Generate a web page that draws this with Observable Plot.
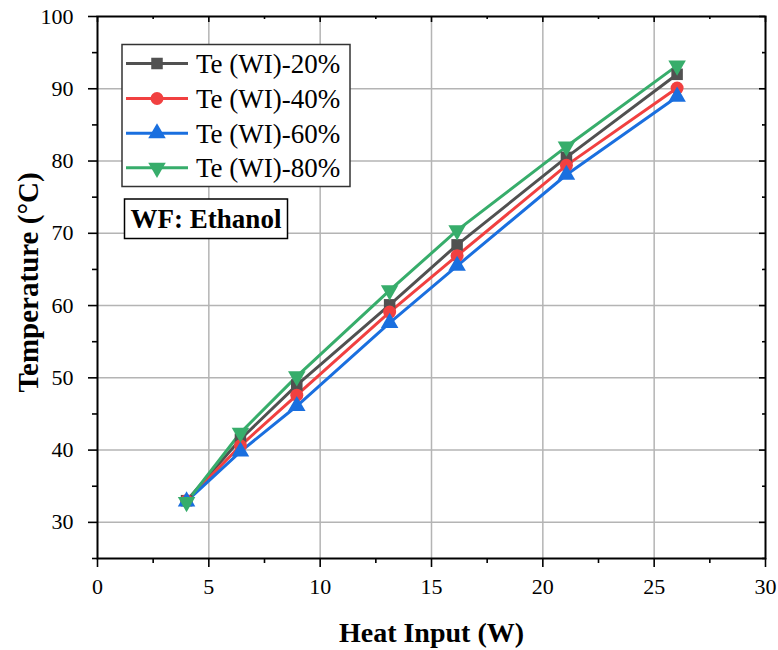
<!DOCTYPE html>
<html><head><meta charset="utf-8">
<script src="https://cdn.jsdelivr.net/npm/d3@7"></script>
<script src="https://cdn.jsdelivr.net/npm/@observablehq/plot@0.6"></script>
<style>
body{margin:0;background:#fff;}
#wrap{position:relative;width:778px;height:650px;font-family:"Liberation Serif","Times New Roman",serif;}
#wrap > svg{position:absolute;left:0;top:0;}
</style></head><body><div id="wrap"></div>
<script>
const heatInput = [4.0, 6.42, 8.95, 13.12, 16.15, 21.06, 26.03];
const seriesNames = ["Te (WI)-20%", "Te (WI)-40%", "Te (WI)-60%", "Te (WI)-80%"];
const te20 = [33.0, 41.5, 49.0, 60.1, 68.4, 80.5, 92.0];
const te40 = [33.0, 40.6, 47.6, 59.1, 66.9, 79.4, 90.1];
const te60 = [32.9, 39.8, 46.1, 57.6, 65.5, 78.1, 88.9];
const te80 = [32.8, 42.4, 50.2, 62.1, 70.4, 82.0, 93.2];
const colors = ["#515151", "#F14040", "#1A6FDF", "#37AD6B"];
const symbols = ["square", "circle", "triangle", "triangle"];
const xTicks = [0, 5, 10, 15, 20, 25, 30];
const xMinor = [2.5, 7.5, 12.5, 17.5, 22.5, 27.5];
const yTicks = [30, 40, 50, 60, 70, 80, 90, 100];
const yMinor = [25, 35, 45, 55, 65, 75, 85, 95];
const xLabel = "Heat Input (W)";
const yLabel = "Temperature (°C)";
const noteText = "WF: Ethanol";

const seriesValues = [te20, te40, te60, te80];
const data = seriesNames.flatMap((s, k) => heatInput.map((x, i) => ({x, y: seriesValues[k][i], s, k})));

const W = 778, H = 650, mL = 97, mR = 13, mT = 16, mB = 92;
const pw = W - mL - mR, ph = H - mT - mB;
const font = "Liberation Serif, Times New Roman, serif";
const xGrid = xTicks.filter(d => d > 0 && d < 30);
const yGrid = yTicks.filter(d => d < 100);
const tickW = 1.6;

const chart = Plot.plot({
  width: W, height: H,
  marginLeft: mL, marginRight: mR, marginTop: mT, marginBottom: mB,
  style: {fontFamily: font, fontSize: "22px", color: "#000", background: "#fff", overflow: "visible"},
  x: {domain: [0, 30]},
  y: {domain: [25, 100]},
  color: {domain: seriesNames, range: colors},
  symbol: {domain: seriesNames, range: symbols},
  marks: [
    Plot.gridX(xGrid, {stroke: "#b4b4b4", strokeOpacity: 1, strokeWidth: 1.5}),
    Plot.gridY(yGrid, {stroke: "#b4b4b4", strokeOpacity: 1, strokeWidth: 1.5}),
    Plot.axisX(xTicks, {tickSize: 9, tickPadding: 11, strokeWidth: tickW, fontSize: 22, fontFamily: font, fill: "#000", label: null}),
    Plot.axisX(xMinor, {tickSize: 5, text: null, strokeWidth: tickW, label: null}),
    Plot.axisY(yTicks, {tickSize: 9, tickPadding: 15, strokeWidth: tickW, fontSize: 22, fontFamily: font, fill: "#000", label: null}),
    Plot.axisY(yMinor, {tickSize: 5, text: null, strokeWidth: tickW, label: null}),
    Plot.tickX(xTicks, {x: d => d, insetBottom: ph - 6, stroke: "#000", strokeWidth: tickW}),
    Plot.tickX(xMinor, {x: d => d, insetBottom: ph - 3, stroke: "#000", strokeWidth: tickW}),
    Plot.tickY(yTicks, {y: d => d, insetLeft: pw - 6, stroke: "#000", strokeWidth: tickW}),
    Plot.tickY(yMinor, {y: d => d, insetLeft: pw - 3, stroke: "#000", strokeWidth: tickW}),
    Plot.line(data, {x: "x", y: "y", z: "s", stroke: "s", strokeWidth: 3}),
    Plot.dot(data, {x: "x", y: "y", symbol: "s", fill: "s", stroke: "none", r: 6.5, rotate: d => d.k === 3 ? 180 : 0}),
    Plot.frame({stroke: "#000", strokeWidth: 2}),
    Plot.text([xLabel], {text: d => d, frameAnchor: "bottom", lineAnchor: "middle", textAnchor: "middle", dy: 75, fontSize: 28, fontWeight: "bold", fontFamily: font, fill: "#000"}),
    Plot.text([yLabel], {text: d => d, frameAnchor: "left", lineAnchor: "middle", textAnchor: "middle", rotate: -90, dx: -69, dy: -5, fontSize: 29, fontWeight: "bold", fontFamily: font, fill: "#000"})
  ]
});
document.getElementById("wrap").appendChild(chart);

// Legend and note overlay
const ov = d3.select("#wrap").append("svg").attr("width", W).attr("height", H)
  .style("font-family", font);
ov.append("rect").attr("x", 122).attr("y", 44.5).attr("width", 228).attr("height", 142)
  .attr("fill", "#fff").attr("stroke", "#333").attr("stroke-width", 1.5);
const rowY = [63.5, 98.5, 133.3, 167.8];
seriesNames.forEach((s, k) => {
  const g = ov.append("g");
  g.append("line").attr("x1", 126).attr("x2", 188).attr("y1", rowY[k]).attr("y2", rowY[k])
    .attr("stroke", colors[k]).attr("stroke-width", 3);
  const sym = [d3.symbolSquare, d3.symbolCircle, d3.symbolTriangle, d3.symbolTriangle][k];
  g.append("path").attr("d", d3.symbol(sym, Math.PI * 6.5 * 6.5)())
    .attr("transform", `translate(157,${rowY[k]}) rotate(${k === 3 ? 180 : 0})`)
    .attr("fill", colors[k]);
  g.append("text").attr("x", 196).attr("y", rowY[k]).attr("dy", "0.35em")
    .attr("font-size", 27).attr("font-family", font).attr("fill", "#000").text(s);
});
ov.append("rect").attr("x", 124.5).attr("y", 199).attr("width", 163).attr("height", 39.5)
  .attr("fill", "#fff").attr("stroke", "#000").attr("stroke-width", 1.5);
ov.append("text").attr("x", 206).attr("y", 219).attr("dy", "0.35em").attr("text-anchor", "middle")
  .attr("font-size", 27).attr("font-weight", "bold").attr("font-family", font).attr("fill", "#000").text(noteText);
</script></body></html>
